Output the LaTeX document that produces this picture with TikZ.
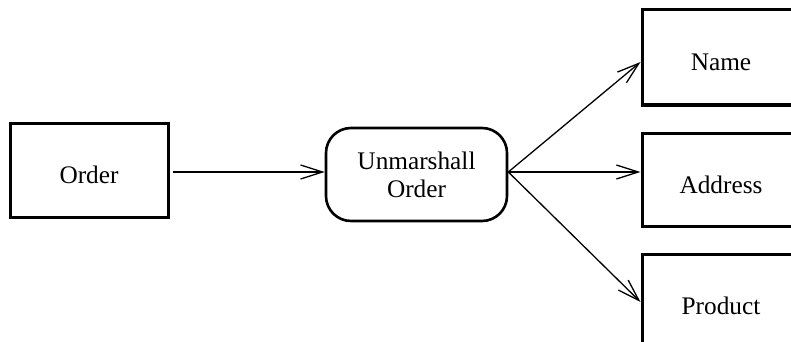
\documentclass[tikz,border=0pt]{standalone}
\usepackage{fontspec}
\setmainfont{Liberation Serif}
\usetikzlibrary{arrows.meta}
\begin{document}
\begin{tikzpicture}[x=1pt,y=-1pt,
  box/.style={draw, line width=3pt, rectangle, minimum width=158pt, inner sep=0pt,
    font=\fontsize{25.3}{28}\selectfont, text height=27pt, text depth=0pt},
  proc/.style={draw, line width=2.6pt, rounded corners=25pt, minimum width=181pt, minimum height=93pt,
    inner sep=0pt, align=center, font=\fontsize{25.3}{28}\selectfont},
  conn/.style={line width=1.3pt, -{Straight Barb[length=22pt,width=14pt,line width=1.3pt]}}
]
\useasboundingbox (0,0) rectangle (791,342);
\clip (0,0) rectangle (791,342);
\node[box, minimum height=94pt] (order) at (89,170) {Order};
\node[proc] (um) at (416.5,174.5) {Unmarshall\\Order};
\node[box, minimum height=95pt] (name) at (721,57.5) {Name};
\node[box, minimum height=93pt] (addr) at (721,179.5) {Address};
\node[box, minimum height=94pt] (prod) at (721,301) {Product};
\draw[conn] ([shift={(3pt,-2pt)}]order.east) -- ([yshift=2.5pt]um.west);
\draw[conn] ([yshift=2.5pt]um.east) -- ([yshift=-4.5pt]name.west);
\draw[conn] ([yshift=2.5pt]um.east) -- ([yshift=7.5pt]addr.west);
\draw[conn] ([yshift=2.5pt]um.east) -- ([yshift=-1pt]prod.west);
\end{tikzpicture}
\end{document}
